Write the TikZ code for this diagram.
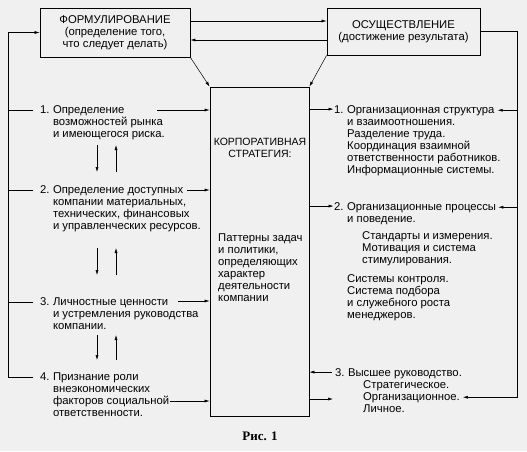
\documentclass[tikz,border=0pt]{standalone}
\usepackage{fontspec}
\setmainfont{Liberation Sans}
\newfontfamily\capfont{Liberation Serif}
\usetikzlibrary{arrows.meta}
\newcommand\ml[1]{\begin{tabular}[t]{@{}l@{}}#1\end{tabular}}
\begin{document}
\begin{tikzpicture}[x=1pt,y=-1pt,
  every node/.style={font=\fontsize{11.3}{12}\selectfont, inner sep=0pt},
  txt/.style={anchor=base west},
  bx/.style={draw, line width=0.8pt, align=center},
  arr/.style={-{Latex[length=5pt,width=3pt]}, line width=0.5pt},
  ln/.style={line width=0.5pt}]
\fill[black!6] (0,0) rectangle (527,451);
\useasboundingbox (0,0) rectangle (527,451);

% boxes
\node[bx, minimum width=150pt, minimum height=49pt] (form) at (115,32.5) {ФОРМУЛИРОВАНИЕ\\(определение того,\\что следует делать)};
\node[bx, minimum width=153pt, minimum height=47pt] (impl) at (403.5,31.5) {ОСУЩЕСТВЛЕНИЕ\\(достижение результата)};
\node[bx, minimum width=99pt, minimum height=329pt] (mid) at (259.5,251.5) {};

% middle texts
\node[align=center, font=\fontsize{10.5}{12}\selectfont] (mt) at (260,148) {КОРПОРАТИВНАЯ\\СТРАТЕГИЯ:};
\node[txt] (mp) at (218,241) {\ml{Паттерны задач\\и политики,\\определяющих\\характер\\деятельности\\компании}};

% left items
\node[txt] (l1n) at (40,113) {1.};
\node[txt] (l1) at ([xshift=3pt]l1n.base east) {\ml{Определение\\возможностей рынка\\и имеющегося риска.}};
\node[txt] (l2n) at (40,193) {2.};
\node[txt] (l2) at ([xshift=3pt]l2n.base east) {\ml{Определение доступных\\компании материальных,\\технических, финансовых\\и управленческих ресурсов.}};
\node[txt] (l3n) at (40,305) {3.};
\node[txt] (l3) at ([xshift=3pt]l3n.base east) {\ml{Личностные ценности\\и устремления руководства\\компании.}};
\node[txt] (l4n) at (40,380) {4.};
\node[txt] (l4) at ([xshift=3pt]l4n.base east) {\ml{Признание роли\\внеэкономических\\факторов социальной\\ответственности.}};

% right items
\node[txt] (r1n) at (334,113) {1.};
\node[txt] (r1) at ([xshift=3pt]r1n.base east) {Организационная структура};
\node[txt] (r1b) at (347,125) {\ml{и взаимоотношения.\\Разделение труда.\\Координация взаимной\\ответственности работников.\\Информационные системы.}};
\node[txt] (r2n) at (334,210) {2.};
\node[txt] (r2) at ([xshift=3pt]r2n.base east) {Организационные процессы};
\node[txt] (r2b) at (347,222) {и поведение.};
\node[txt] (r2c) at (362,239) {\ml{Стандарты и измерения.\\Мотивация и система\\стимулирования.}};
\node[txt] (r2d) at (347,282) {\ml{Системы контроля.\\Система подбора\\и служебного роста\\менеджеров.}};
\node[txt] (r3n) at (335,376) {3.};
\node[txt] (r3) at ([xshift=3pt]r3n.base east) {Высшее руководство.};
\node[txt] (r3s) at (363,388) {Стратегическое.};
\node[txt] (r3o) at (363,400) {Организационное.};
\node[txt] (r3l) at (363,412) {Личное.};

% caption
\node[font=\capfont\bfseries\fontsize{13}{15}\selectfont] (cap) at (260,436) {Рис. 1};

% top connectors
\draw[arr] ([yshift=11.5pt]form.east) -- ([yshift=11.5pt]form.east -| impl.west);
\draw[arr] ([yshift=-8.5pt]impl.west) -- ([yshift=-8.5pt]impl.west -| form.east);
\draw[arr] (form.south east) -- (mid.north west);
\draw[arr] (impl.south west) -- (mid.north east);

% left bus
\coordinate (bus) at (8,0);
\coordinate (t1) at (33,110);
\coordinate (t2) at (33,190);
\coordinate (t3) at (33,302);
\coordinate (t4) at (33,377);
\draw[ln] (t1) -- (t1 -| bus);
\draw[ln] (t2) -- (t2 -| bus);
\draw[ln] (t3) -- (t3 -| bus);
\draw[arr] (t4) -- (t4 -| bus) |- (form.west);

% left items into strategy box
\coordinate (a1) at (157,110);
\coordinate (a2) at (187,190);
\coordinate (a3) at (178,301);
\coordinate (a4) at (170,401);
\draw[arr] (a1) -- (a1 -| mid.west);
\draw[arr] (a2) -- (a2 -| mid.west);
\draw[arr] (a3) -- (a3 -| mid.west);
\draw[arr] (a4) -- (a4 -| mid.west);

% down / up arrows between left items
\coordinate (d1s) at (97,145); \coordinate (d1e) at (97,172);
\coordinate (u1s) at (116,172); \coordinate (u1e) at (116,145);
\coordinate (d2s) at (97,248); \coordinate (d2e) at (97,275);
\coordinate (u2s) at (116,275); \coordinate (u2e) at (116,248);
\coordinate (d3s) at (97,335); \coordinate (d3e) at (97,360);
\coordinate (u3s) at (116,360); \coordinate (u3e) at (116,335);
\draw[arr] (d1s) -- (d1e);
\draw[arr] (u1s) -- (u1e);
\draw[arr] (d2s) -- (d2e);
\draw[arr] (u2s) -- (u2e);
\draw[arr] (d3s) -- (d3e);
\draw[arr] (u3s) -- (u3e);

% strategy box to right items
\draw[arr] (mid.east |- r1n.west) -- ([xshift=-0.5pt]r1n.west);
\draw[arr] (mid.east |- r2n.west) -- ([xshift=-0.5pt]r2n.west);
\draw[arr] ([xshift=-3pt]r3n.west) -- (r3n.west -| mid.east);
\coordinate (o1) at (333,399);
\draw[arr] (mid.east |- o1) -- (o1);

% right bus
\coordinate (rbus) at (517,0);
\draw[arr] (impl.east) -- (impl.east -| rbus) |- ([xshift=3pt]r3o.east);
\draw[arr] (r1.east -| rbus) -- ([xshift=3pt]r1.east);
\draw[arr] (r2.east -| rbus) -- ([xshift=2pt]r2.east);
\end{tikzpicture}
\end{document}
